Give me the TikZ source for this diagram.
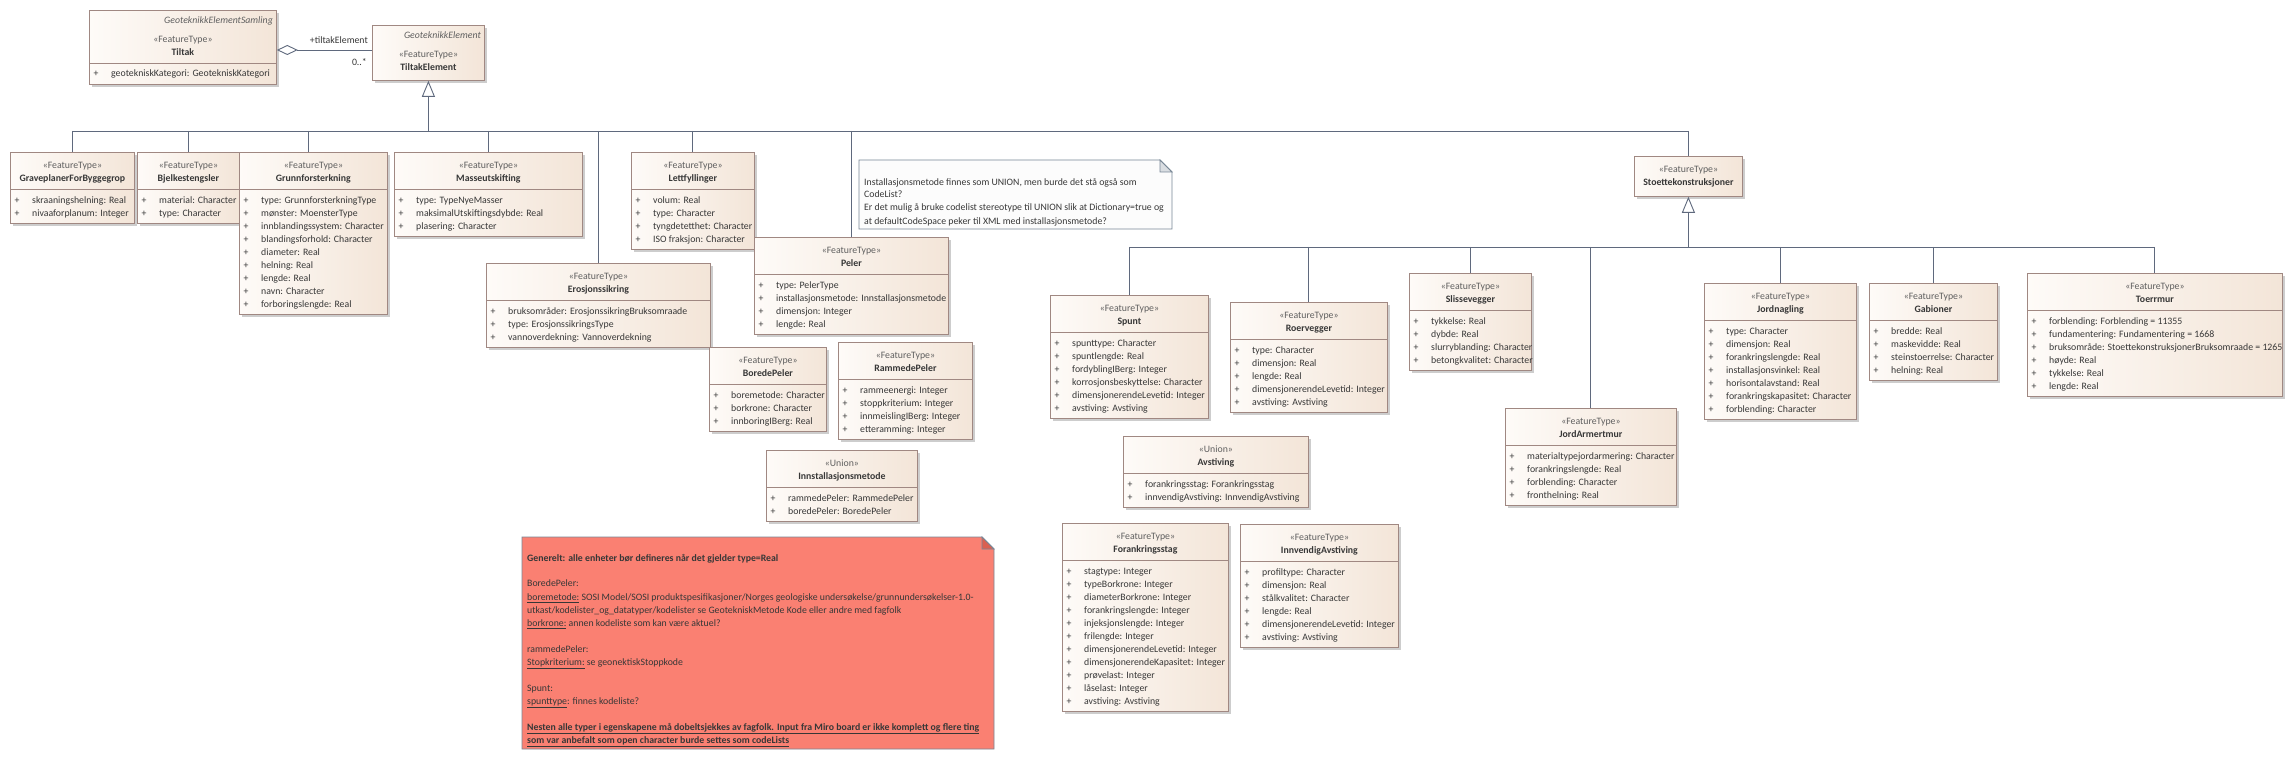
\documentclass[tikz,border=0pt]{standalone}
\usepackage{fontspec}
\setmainfont{Carlito}
\usetikzlibrary{calc,arrows.meta}
\definecolor{bordc}{RGB}{160,136,130}
\definecolor{fillL}{RGB}{254,251,248}
\definecolor{fillR}{RGB}{243,229,216}
\definecolor{shadowc}{RGB}{205,205,205}
\definecolor{connc}{RGB}{95,105,125}
\definecolor{textc}{RGB}{55,55,55}
\definecolor{stereoc}{RGB}{95,95,95}
\definecolor{noteb}{RGB}{120,135,150}
\definecolor{notef}{RGB}{252,252,252}
\definecolor{foldc}{RGB}{218,222,226}
\definecolor{redf}{RGB}{250,128,114}
\definecolor{redfold}{RGB}{218,96,82}
\tikzset{
  cls/.style={draw=bordc, line width=0.8pt, left color=fillL, right color=fillR, inner sep=0pt},
  conn/.style={draw=connc, line width=0.9pt},
  txt/.style={inner sep=0pt, text=textc, font=\fontsize{9.8}{13}\selectfont},
  stereo/.style={txt, text=stereoc},
  namef/.style={txt, font=\fontsize{9.8}{13}\selectfont\bfseries},
  itf/.style={txt, text=stereoc, font=\fontsize{9.8}{13}\selectfont\itshape},
  gen/.style={conn, -{Triangle[open, length=16pt, width=13pt]}},
}
\newcommand\umlbox[8]{%
  \pgfmathsetmacro\bh{#5>0 ? 45+13*#5 : 40}%
  \fill[shadowc] (#2+3,#3+3) rectangle (#2+#4+3,#3+\bh+3);
  \node[cls, anchor=north west, minimum width=#4pt, minimum height=\bh pt] (#1) at (#2,#3) {};
  \node[stereo, anchor=base] (#1-s) at ($(#1.north)+(0,16.5)$) {«#6»};
  \node[namef, anchor=base] (#1-n) at ($(#1.north)+(0,29.5)$) {#7};
  \ifnum#5>0
    \draw[bordc, line width=0.8pt] ($(#1.north west)+(0,37)$) -- ($(#1.north east)+(0,37)$);
    \foreach \t [count=\i from 0] in {#8} {
      \node[txt, anchor=base] (#1-p\i) at ($(#1.north west)+(7,51.5+13*\i)$) {+};
      \node[txt, anchor=base west] (#1-a\i) at ($(#1.north west)+(22,51.5+13*\i)$) {\t};
    }
  \fi
}
\begin{document}
\begin{tikzpicture}[x=1pt,y=-1pt]
\useasboundingbox[fill=white] (0,0) rectangle (2292,759);

% Tiltak
\fill[shadowc] (92,13) rectangle (279,87);
\node[cls, anchor=north west, minimum width=187pt, minimum height=74pt] (tiltak) at (89,10) {};
\node[itf, anchor=base east] (tiltak-i) at (273,23.5) {GeoteknikkElementSamling};
\node[stereo, anchor=base] (tiltak-s) at ($(tiltak.north)+(0,32.5)$) {«FeatureType»};
\node[namef, anchor=base] (tiltak-n) at ($(tiltak.north)+(0,45.5)$) {Tiltak};
\draw[bordc, line width=0.8pt] ($(tiltak.north west)+(0,53)$) -- ($(tiltak.north east)+(0,53)$);
\node[txt, anchor=base] (tiltak-p) at ($(tiltak.north west)+(7,66.5)$) {+};
\node[txt, anchor=base west] (tiltak-a) at ($(tiltak.north west)+(22,66.5)$) {geotekniskKategori: GeotekniskKategori};

% TiltakElement
\fill[shadowc] (375,28) rectangle (487,83);
\node[cls, anchor=north west, minimum width=112pt, minimum height=55pt] (tiltakel) at (372,25) {};
\node[itf, anchor=base east] (tiltakel-i) at (481,38.5) {GeoteknikkElement};
\node[stereo, anchor=base] (tiltakel-s) at ($(tiltakel.north)+(0,32.5)$) {«FeatureType»};
\node[namef, anchor=base] (tiltakel-n) at ($(tiltakel.north)+(0,45.5)$) {TiltakElement};

% association
\draw[conn, {Diamond[open, length=21pt, width=10pt]}-] ($(tiltak.north east)+(0,40)$) -- ($(tiltakel.north west)+(0,25)$);
\node[txt, anchor=base east] (rolelbl) at (368,43.5) {+tiltakElement};
\node[txt, anchor=base east] (multlbl) at (367,65.5) {0..*};

% first level children
\umlbox{bjelke}{137}{152}{102}{2}{FeatureType}{Bjelkestengsler}{material: Character, type: Character}
\umlbox{grave}{10}{152}{124}{2}{FeatureType}{GraveplanerForByggegrop}{skraaningshelning: Real, nivaaforplanum: Integer}
\umlbox{grunn}{239}{152}{148}{9}{FeatureType}{Grunnforsterkning}{type: GrunnforsterkningType, mønster: MoensterType, innblandingssystem: Character, blandingsforhold: Character, diameter: Real, helning: Real, lengde: Real, navn: Character, forboringslengde: Real}
\umlbox{masse}{394}{152}{188}{3}{FeatureType}{Masseutskifting}{type: TypeNyeMasser, maksimalUtskiftingsdybde: Real, plasering: Character}
\umlbox{lett}{631}{152}{123}{4}{FeatureType}{Lettfyllinger}{volum: Real, type: Character, tyngdetetthet: Character, ISO fraksjon: Character}
\umlbox{erosjon}{486}{263}{224}{3}{FeatureType}{Erosjonssikring}{bruksområder: ErosjonssikringBruksomraade, type: ErosjonssikringsType, vannoverdekning: Vannoverdekning}
\umlbox{peler}{754}{237}{194}{4}{FeatureType}{Peler}{type: PelerType, installasjonsmetode: Innstallasjonsmetode, dimensjon: Integer, lengde: Real}
\umlbox{bored}{709}{347}{117}{3}{FeatureType}{BoredePeler}{boremetode: Character, borkrone: Character, innboringIBerg: Real}
\umlbox{rammed}{838}{342}{134}{4}{FeatureType}{RammedePeler}{rammeenergi: Integer, stoppkriterium: Integer, innmeislingIBerg: Integer, etteramming: Integer}
\umlbox{innst}{766}{450}{151}{2}{Union}{Innstallasjonsmetode}{rammedePeler: RammedePeler, boredePeler: BoredePeler}
\umlbox{stoette}{1634}{156}{108}{0}{FeatureType}{Stoettekonstruksjoner}{}

% second level children
\umlbox{spunt}{1050}{295}{158}{6}{FeatureType}{Spunt}{spunttype: Character, spuntlengde: Real, fordyblingIBerg: Integer, korrosjonsbeskyttelse: Character, dimensjonerendeLevetid: Integer, avstiving: Avstiving}
\umlbox{roer}{1230}{302}{157}{5}{FeatureType}{Roervegger}{type: Character, dimensjon: Real, lengde: Real, dimensjonerendeLevetid: Integer, avstiving: Avstiving}
\umlbox{sliss}{1409}{273}{122}{4}{FeatureType}{Slissevegger}{tykkelse: Real, dybde: Real, slurryblanding: Character, betongkvalitet: Character}
\umlbox{avst}{1123}{436}{185}{2}{Union}{Avstiving}{forankringsstag: Forankringsstag, innvendigAvstiving: InnvendigAvstiving}
\umlbox{forank}{1062}{523}{166}{11}{FeatureType}{Forankringsstag}{stagtype: Integer, typeBorkrone: Integer, diameterBorkrone: Integer, forankringslengde: Integer, injeksjonslengde: Integer, frilengde: Integer, dimensjonerendeLevetid: Integer, dimensjonerendeKapasitet: Integer, prøvelast: Integer, låselast: Integer, avstiving: Avstiving}
\umlbox{innv}{1240}{524}{158}{6}{FeatureType}{InnvendigAvstiving}{profiltype: Character, dimensjon: Real, stålkvalitet: Character, lengde: Real, dimensjonerendeLevetid: Integer, avstiving: Avstiving}
\umlbox{jarm}{1505}{408}{171}{4}{FeatureType}{JordArmertmur}{materialtypejordarmering: Character, forankringslengde: Real, forblending: Character, fronthelning: Real}
\umlbox{jnag}{1704}{283}{152}{7}{FeatureType}{Jordnagling}{type: Character, dimensjon: Real, forankringslengde: Real, installasjonsvinkel: Real, horisontalavstand: Real, forankringskapasitet: Character, forblending: Character}
\umlbox{gab}{1869}{283}{128}{4}{FeatureType}{Gabioner}{bredde: Real, maskevidde: Real, steinstoerrelse: Character, helning: Real}
\umlbox{toerr}{2027}{273}{255}{6}{FeatureType}{Toerrmur}{forblending: Forblending = 11355, fundamentering: Fundamentering = 1668, bruksområde: StoettekonstruksjonerBruksomraade = 1265, høyde: Real, tykkelse: Real, lengde: Real}

% generalization bus 1
\coordinate (bus1) at (0,131);
\draw[gen] (tiltakel.south |- bus1) -- (tiltakel.south);
\draw[conn] (grave.north |- bus1) -- (stoette.north |- bus1);
\foreach \c in {grave,bjelke,masse,erosjon,lett,peler,stoette}{
  \draw[conn] (\c.north |- bus1) -- (\c.north);
}
\draw[conn] ($(grunn.north |- bus1)+(-5,0)$) -- ($(grunn.north)+(-5,0)$);

% generalization bus 2
\coordinate (bus2) at (0,247);
\draw[gen] (stoette.south |- bus2) -- (stoette.south);
\draw[conn] (spunt.north |- bus2) -- (toerr.north |- bus2);
\foreach \c in {spunt,roer,sliss,jarm,jnag,gab,toerr}{
  \draw[conn] (\c.north |- bus2) -- (\c.north);
}

% note
\draw[noteb, line width=0.8pt, fill=notef] (859,160) -- (1160,160) -- (1172,172) -- (1172,229) -- (859,229) -- cycle;
\draw[noteb, line width=0.8pt, fill=foldc] (1160,160) -- (1160,172) -- (1172,172) -- cycle;
\node[txt, anchor=base west] (note1) at (864,185.5) {Installasjonsmetode finnes som UNION, men burde det stå også som};
\node[txt, anchor=base west] (note2) at (864,198) {CodeList?};
\node[txt, anchor=base west] (note3) at (864,211) {Er det mulig å bruke codelist stereotype til UNION slik at Dictionary=true og};
\node[txt, anchor=base west] (note4) at (864,224.5) {at defaultCodeSpace peker til XML med installasjonsmetode?};

% red note
\draw[noteb, line width=0.8pt, fill=redf] (522,537) -- (982,537) -- (994,549) -- (994,749) -- (522,749) -- cycle;
\draw[noteb, line width=0.8pt, fill=redfold] (982,537) -- (982,549) -- (994,549) -- cycle;
\node[namef, anchor=base west] (rn1) at (527,561.5) {Generelt: alle enheter bør defineres når det gjelder type=Real};
\node[txt, anchor=base west] (rn2) at (527,586.5) {BoredePeler:};
\node[txt, anchor=base west] (rn3) at (527,600.5) {\underline{boremetode:} SOSI Model/SOSI produktspesifikasjoner/Norges geologiske undersøkelse/grunnundersøkelser-1.0-};
\node[txt, anchor=base west] (rn4) at (527,613.5) {utkast/kodelister\_og\_datatyper/kodelister se GeotekniskMetode Kode eller andre med fagfolk};
\node[txt, anchor=base west] (rn5) at (527,626.5) {\underline{borkrone:} annen kodeliste som kan være aktuel?};
\node[txt, anchor=base west] (rn6) at (527,652.5) {rammedePeler:};
\node[txt, anchor=base west] (rn7) at (527,665.5) {\underline{Stopkriterium:} se geonektiskStoppkode};
\node[txt, anchor=base west] (rn8) at (527,691.5) {Spunt:};
\node[txt, anchor=base west] (rn9) at (527,704.5) {\underline{spunttype}: finnes kodeliste?};
\node[namef, anchor=base west] (rn10) at (527,730.5) {\underline{Nesten alle typer i egenskapene må dobeltsjekkes av fagfolk. Input fra Miro board er ikke komplett og flere ting}};
\node[namef, anchor=base west] (rn11) at (527,743.5) {\underline{som var anbefalt som open character burde settes som codeLists}};
\end{tikzpicture}
\end{document}
